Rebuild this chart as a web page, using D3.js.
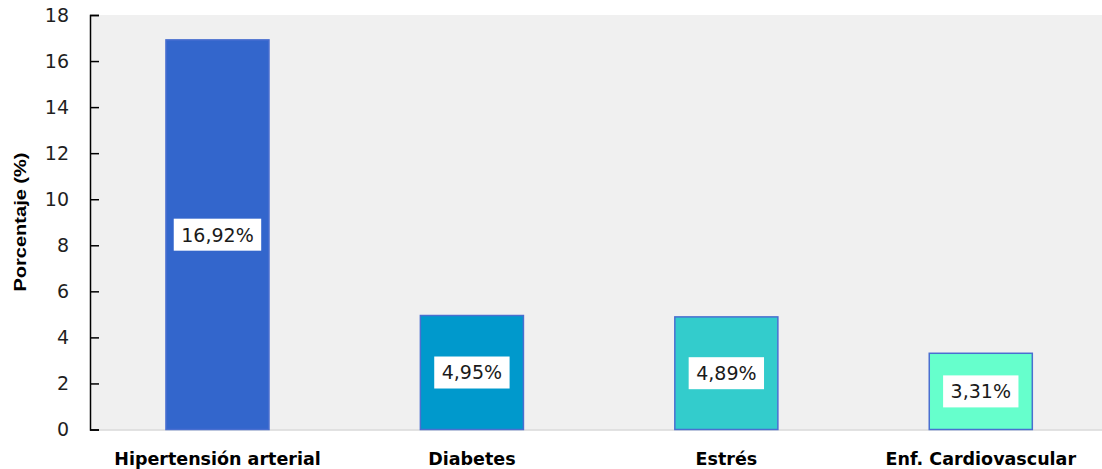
<!DOCTYPE html>
<html>
<head>
<meta charset="utf-8">
<script src="https://cdn.jsdelivr.net/npm/d3@7"></script>
<style>
  html, body { margin: 0; padding: 0; background: #ffffff; overflow: hidden; }
  svg { display: block; }
</style>
</head>
<body>
<svg id="chart" width="1102" height="469"></svg>
<script>
// Factores de riesgo (porcentaje)
const categories = ["Hipertensión arterial", "Diabetes", "Estrés", "Enf. Cardiovascular"];
const values = [16.92, 4.95, 4.89, 3.31];
const valueLabels = ["16,92%", "4,95%", "4,89%", "3,31%"];
const barColors = ["#3366cc", "#0099cc", "#33cccc", "#66ffcc"];
const yTicks = [0, 2, 4, 6, 8, 10, 12, 14, 16, 18];
const yTitle = "Porcentaje (%)";

const svg = d3.select("#chart");
const W = 1102, H = 469;
const plot = { left: 90, top: 15, right: 1108, bottom: 429.5 };

const x = d3.scaleBand()
  .domain(categories)
  .range([plot.left + 0.25, plot.right])
  .paddingInner(0.595)
  .paddingOuter(0.2975);

const y = d3.scaleLinear()
  .domain([0, 18])
  .range([plot.bottom, plot.top]);

// plot background
svg.append("rect")
  .attr("x", plot.left + 1)
  .attr("y", plot.top)
  .attr("width", W - plot.left - 1)
  .attr("height", plot.bottom - plot.top)
  .attr("fill", "#f0f0f0");

// baseline
svg.append("line")
  .attr("x1", plot.left).attr("x2", W)
  .attr("y1", y(0) + 0.5).attr("y2", y(0) + 0.5)
  .attr("stroke", "#d9d9d9")
  .attr("stroke-width", 1.5);

// bars
const bars = svg.append("g");
bars.selectAll("rect")
  .data(categories)
  .join("rect")
  .attr("x", d => x(d))
  .attr("y", (d, i) => y(values[i]))
  .attr("width", x.bandwidth())
  .attr("height", (d, i) => y(0) - y(values[i]))
  .attr("fill", (d, i) => barColors[i])
  .attr("stroke", "#4a6fd0")
  .attr("stroke-width", 1.5);

// y axis
const yAxis = d3.axisLeft(y)
  .tickValues(yTicks)
  .tickSize(-9)
  .tickPadding(21)
  .tickFormat(d3.format("d"));

const ya = svg.append("g")
  .attr("transform", `translate(${plot.left},0)`)
  .call(yAxis);
ya.select(".domain").attr("stroke", "#000").attr("stroke-width", 1.5);
ya.selectAll(".tick line").attr("stroke", "#000").attr("stroke-width", 1.5);
ya.selectAll(".tick text")
  .attr("font-family", "DejaVu Sans, sans-serif")
  .attr("font-size", 19)
  .attr("fill", "#1f1f1f");

// x category labels
svg.append("g")
  .selectAll("text")
  .data(categories)
  .join("text")
  .attr("x", d => x(d) + x.bandwidth() / 2)
  .attr("y", 465)
  .attr("text-anchor", "middle")
  .attr("font-family", "DejaVu Sans, sans-serif")
  .attr("font-weight", "bold")
  .attr("font-size", 17.5)
  .attr("fill", "#000")
  .text(d => d);

// y axis title
svg.append("text")
  .attr("transform", "translate(26,222) rotate(-90)")
  .attr("text-anchor", "middle")
  .attr("font-family", "Liberation Sans, Arial, sans-serif")
  .attr("font-weight", "bold")
  .attr("font-size", 17)
  .attr("textLength", 139)
  .attr("lengthAdjust", "spacingAndGlyphs")
  .attr("fill", "#000")
  .text(yTitle);

// value labels in white boxes at bar mid-height
const lab = svg.append("g")
  .selectAll("g")
  .data(categories)
  .join("g")
  .attr("transform", (d, i) => `translate(${x(d) + x.bandwidth() / 2},${(y(values[i]) + y(0)) / 2})`);

lab.append("rect").attr("fill", "#ffffff");
lab.append("text")
  .attr("text-anchor", "middle")
  .attr("dy", "0.36em")
  .attr("font-family", "DejaVu Sans, sans-serif")
  .attr("font-size", 19)
  .attr("fill", "#1a1a1a")
  .text((d, i) => valueLabels[i]);

lab.each(function () {
  const g = d3.select(this);
  const w = g.select("text").node().getComputedTextLength() + 15;
  g.select("rect")
    .attr("x", -w / 2).attr("y", -16)
    .attr("width", w).attr("height", 32);
});
</script>
</body>
</html>
